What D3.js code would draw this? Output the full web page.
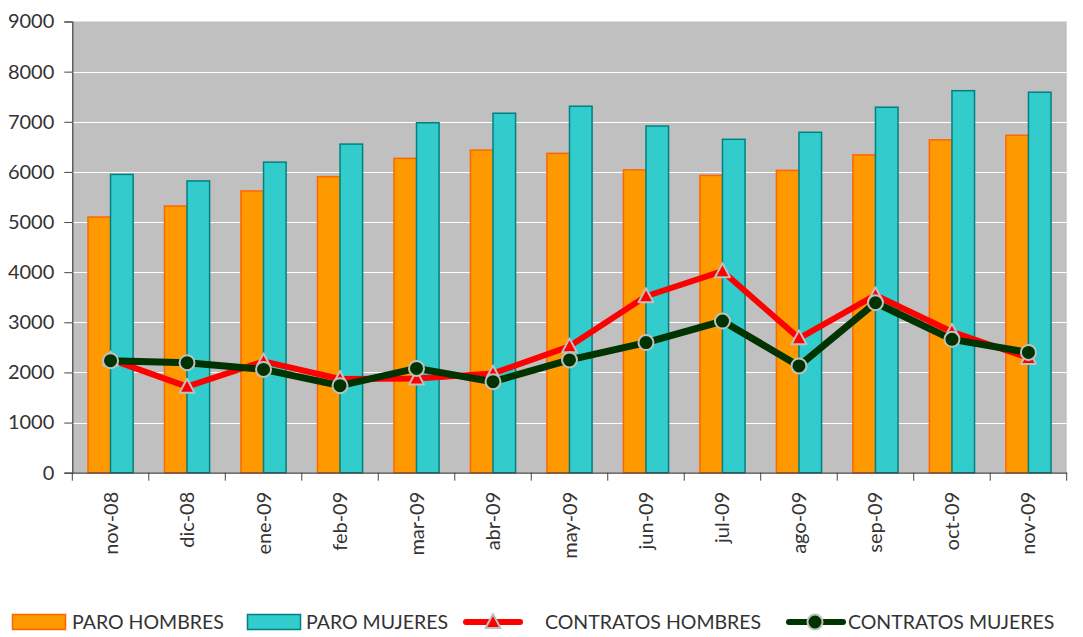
<!DOCTYPE html>
<html>
<head>
<meta charset="utf-8">
<script src="https://cdn.jsdelivr.net/npm/d3@7"></script>
<style>
  body { margin: 0; background: #fff; }
  #drawing-area { width: 1083px; height: 637px; }
  text { font-family: Lato, "Open Sans", sans-serif; fill: #333; }
</style>
</head>
<body>
<div id="drawing-area"></div>
<script>
var months = ["nov-08", "dic-08", "ene-09", "feb-09", "mar-09", "abr-09", "may-09",
              "jun-09", "jul-09", "ago-09", "sep-09", "oct-09", "nov-09"];
var paro_hombres = [5100, 5320, 5620, 5905, 6270, 6435, 6370, 6040, 5930, 6030, 6340, 6640, 6730];
var paro_mujeres = [5950, 5820, 6195, 6555, 6980, 7170, 7310, 6915, 6650, 6790, 7290, 7620, 7590];
var contratos_hombres = [2260, 1716, 2220, 1870, 1880, 1980, 2520, 3520, 4020, 2680, 3540, 2810, 2290];
var contratos_mujeres = [2235, 2195, 2060, 1736, 2080, 1815, 2250, 2595, 3025, 2130, 3390, 2660, 2400];
var y_ticks = [0, 1000, 2000, 3000, 4000, 5000, 6000, 7000, 8000, 9000];

var sx = 1083, sy = 637;
var svg = d3.select('#drawing-area').append('svg').attr('width', sx).attr('height', sy);

var p_left = 72.3, p_right = 1066.7, p_top = 21.5, p_bottom = 472.7;

var x = d3.scaleBand().domain(months).range([p_left, p_right]);
var y = d3.scaleLinear().domain([0, 9000]).range([p_bottom, p_top]);
var bw = x.bandwidth() * 0.295;

// plot background
svg.append("rect")
    .attr("x", p_left).attr("y", p_top)
    .attr("width", p_right - p_left).attr("height", p_bottom - p_top)
    .attr("fill", "#c0c0c0");

// grid
svg.append("g").selectAll("line")
    .data(y_ticks.filter(function (d) { return d > 0 && d < 9000; }))
    .enter().append("line")
    .attr("x1", p_left).attr("x2", p_right)
    .attr("y1", function (d) { return Math.round(y(d)) + 0.5; })
    .attr("y2", function (d) { return Math.round(y(d)) + 0.5; })
    .attr("stroke", "#fff").attr("stroke-width", 1.2);

// bars
function center(m) { return x(m) + x.bandwidth() / 2; }

svg.append("g").selectAll("rect")
    .data(months)
    .enter().append("rect")
    .attr("x", function (d) { return center(d) - bw; })
    .attr("y", function (d, i) { return y(paro_hombres[i]); })
    .attr("width", bw)
    .attr("height", function (d, i) { return p_bottom - y(paro_hombres[i]); })
    .attr("style", "fill:#ff9900;stroke:#ff6600;stroke-width:1.5");

svg.append("g").selectAll("rect")
    .data(months)
    .enter().append("rect")
    .attr("x", function (d) { return center(d); })
    .attr("y", function (d, i) { return y(paro_mujeres[i]); })
    .attr("width", bw)
    .attr("height", function (d, i) { return p_bottom - y(paro_mujeres[i]); })
    .attr("style", "fill:#33cccc;stroke:#008080;stroke-width:1.5");

// axes
var yAxis = svg.append("g")
    .attr("transform", "translate(" + p_left + ",0)")
    .call(d3.axisLeft(y).tickValues(y_ticks).tickSize(8).tickPadding(10).tickFormat(d3.format("d")));
yAxis.selectAll("text").style("font-size", "20px").attr("fill", "#333");

var xAxis = svg.append("g")
    .attr("transform", "translate(0," + p_bottom + ")")
    .call(d3.axisBottom(x).tickSize(0).tickSizeOuter(0));
xAxis.selectAll("text")
    .style("font-size", "20px").attr("fill", "#333")
    .attr("transform", "rotate(-90)")
    .attr("text-anchor", "end")
    .attr("x", -19).attr("y", 0).attr("dy", "0.35em");
// tick marks at band edges
var edges = months.map(function (m) { return x(m); }).concat([p_right]);
xAxis.selectAll("line.edge")
    .data(edges).enter().append("line")
    .attr("class", "edge")
    .attr("x1", function (d) { return d; }).attr("x2", function (d) { return d; })
    .attr("y1", 0).attr("y2", 8)
    .attr("stroke", "#444");
svg.selectAll(".domain").attr("stroke", "#444").attr("stroke-width", 1.2);
svg.selectAll(".tick line").attr("stroke", "#444");

// lines
function draw_series(values, color, width, marker) {
    var line = d3.line()
        .x(function (d, i) { return center(months[i]); })
        .y(function (d) { return y(d); });
    svg.append("path")
        .datum(values)
        .attr("d", line)
        .attr("style", "fill:none;stroke:" + color + ";stroke-width:" + width + ";stroke-linejoin:round");
    var g = svg.append("g");
    values.forEach(function (v, i) {
        marker(g, center(months[i]), y(v));
    });
}

function triangle(g, cx, cy) {
    g.append("path")
        .attr("d", "M" + cx + " " + (cy - 8) + " L" + (cx + 7.5) + " " + (cy + 6) + " L" + (cx - 7.5) + " " + (cy + 6) + " Z")
        .attr("style", "fill:#ff0000;stroke:#c0c0c0;stroke-width:2;stroke-linejoin:round");
}

function circle(g, cx, cy) {
    g.append("circle")
        .attr("cx", cx).attr("cy", cy).attr("r", 7.5)
        .attr("style", "fill:#003300;stroke:#c0c0c0;stroke-width:2");
}

draw_series(contratos_hombres, "#ff0000", 6, triangle);
draw_series(contratos_mujeres, "#003300", 7, circle);

// legend
var ly = 622;
var lg = svg.append("g");
lg.append("rect").attr("x", 12.5).attr("y", 614.5).attr("width", 53).attr("height", 15)
    .attr("style", "fill:#ff9900;stroke:#ff6600;stroke-width:1.5");
lg.append("text").attr("x", 72).attr("y", ly).attr("dy", "0.35em").style("font-size", "19.5px").text("PARO HOMBRES");
lg.append("rect").attr("x", 247.5).attr("y", 614.5).attr("width", 53).attr("height", 15)
    .attr("style", "fill:#33cccc;stroke:#008080;stroke-width:1.5");
lg.append("text").attr("x", 306).attr("y", ly).attr("dy", "0.35em").style("font-size", "19.5px").text("PARO MUJERES");
lg.append("line").attr("x1", 466).attr("x2", 520).attr("y1", ly).attr("y2", ly)
    .attr("style", "stroke:#ff0000;stroke-width:6;stroke-linecap:round");
triangle(lg, 493, ly);
lg.append("text").attr("x", 545).attr("y", ly).attr("dy", "0.35em").style("font-size", "19.5px").text("CONTRATOS HOMBRES");
lg.append("line").attr("x1", 789).attr("x2", 843).attr("y1", ly).attr("y2", ly)
    .attr("style", "stroke:#003300;stroke-width:6;stroke-linecap:round");
circle(lg, 815, ly);
lg.append("text").attr("x", 848).attr("y", ly).attr("dy", "0.35em").style("font-size", "19.5px").text("CONTRATOS MUJERES");
</script>
</body>
</html>
